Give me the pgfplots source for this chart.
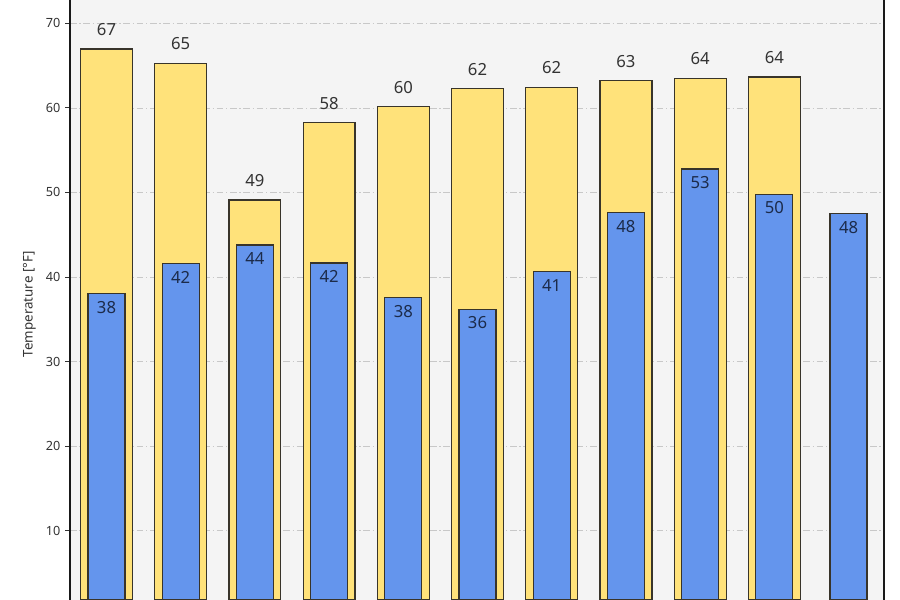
\documentclass[border=0pt]{standalone}
\usepackage{fontspec}
\setmainfont{Noto Sans}
\usepackage{pgfplots}
\pgfplotsset{compat=1.18}
\definecolor{yellowc}{HTML}{FFE27A}
\definecolor{bluec}{HTML}{6495ED}
\definecolor{edgec}{HTML}{38342A}
\definecolor{bgc}{HTML}{F4F4F4}
\definecolor{gridc}{HTML}{C8C8C8}
\definecolor{textc}{HTML}{333333}
\definecolor{bluetext}{HTML}{1C2B4A}
\begin{document}
\begin{tikzpicture}
\begin{axis}[
  scale only axis,
  width=610.5pt, height=450pt,
  xmin=-0.492, xmax=10.478,
  ymin=1.81, ymax=72.76,
  hide x axis,
  axis line style={line width=1.3pt, color=black!90},
  axis background/.style={fill=bgc},
  ytick={10,20,30,40,50,60,70},
  ytick pos=left,
  tick align=outside,
  major tick length=3.75pt,
  ytick style={line width=0.8pt, color=textc},
  ymajorgrids,
  grid style={gridc, line width=0.6pt, dash pattern=on 5pt off 2pt on 1pt off 2pt},
  /pgf/number format/assume math mode=true,
  yticklabel style={font=\fontsize{9.5}{11}\selectfont, color=textc},
  ylabel={Temperature [°F]},
  ylabel style={at={(axis description cs:-0.0498,0.493)}, anchor=center, font=\fontsize{10}{12}\selectfont, color=textc},
  point meta=explicit symbolic,
]
\addplot[ybar, bar width=0.7, bar shift=0pt, fill=yellowc, draw=edgec, line width=0.9pt,
  nodes near coords,
  every node near coord/.append style={anchor=center, yshift=14.5pt, font=\fontsize{12.5}{14}\selectfont, color=textc}]
  coordinates {
  (0,66.96) [67]
  (1,65.27) [65]
  (2,49.1) [49]
  (3,58.25) [58]
  (4,60.14) [60]
  (5,62.3) [62]
  (6,62.43) [62]
  (7,63.2) [63]
  (8,63.5) [64]
  (9,63.65) [64]
  };
\addplot[ybar, bar width=0.5, bar shift=0pt, fill=bluec, draw=edgec, line width=0.9pt,
  nodes near coords,
  every node near coord/.append style={anchor=center, yshift=-10.3pt, font=\fontsize{12.5}{14}\selectfont, color=bluetext}]
  coordinates {
  (0,38.07) [38]
  (1,41.6) [42]
  (2,43.8) [44]
  (3,41.65) [42]
  (4,37.55) [38]
  (5,36.2) [36]
  (6,40.65) [41]
  (7,47.6) [48]
  (8,52.77) [53]
  (9,49.8) [50]
  (10,47.53) [48]
  };
\end{axis}
\pgfresetboundingbox
\path[use as bounding box] ([xshift=-52.5pt]current axis.south west) rectangle ([xshift=12pt]current axis.north east);
\end{tikzpicture}
\end{document}
